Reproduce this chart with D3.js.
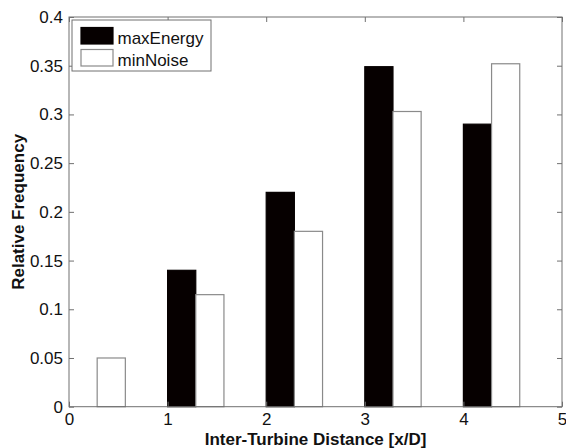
<!DOCTYPE html>
<html>
<head>
<meta charset="utf-8">
<script src="https://cdn.jsdelivr.net/npm/d3@7"></script>
<style>
  html, body { margin: 0; padding: 0; background: #fff; }
  svg { display: block; }
  text { font-family: "Liberation Sans", Arial, sans-serif; fill: #111; }
</style>
</head>
<body>
<svg id="chart" width="566" height="448"></svg>
<script>
// ---- data ----
const categories = [0, 1, 2, 3, 4];
const seriesNames = ["maxEnergy", "minNoise"];
const maxEnergy = [0, 0.14, 0.22, 0.349, 0.29];
const minNoise = [0.05, 0.115, 0.18, 0.303, 0.352];
const xTicks = [0, 1, 2, 3, 4, 5];
const yTicks = [0, 0.05, 0.1, 0.15, 0.2, 0.25, 0.3, 0.35, 0.4];
const yTickLabels = ["0", "0.05", "0.1", "0.15", "0.2", "0.25", "0.3", "0.35", "0.4"];
const xLabel = "Inter-Turbine Distance [x/D]";
const yLabel = "Relative Frequency";

// ---- layout ----
const L = 69, R = 562, T = 17, B = 406.7;
const svg = d3.select("#chart");
const x = d3.scaleLinear().domain([0, 5]).range([L, R]);
const y = d3.scaleLinear().domain([0, 0.4]).range([B, T]);
const barW = 2 / 7; // MATLAB grouped bar width per series (in x units)
const fills = ["#060000", "#ffffff"];
const strokes = ["#060000", "#8a8a8a"];
const series = [maxEnergy, minNoise];

// bars
series.forEach((vals, si) => {
  svg.append("g").selectAll("rect")
    .data(categories.map((c, i) => ({ c, v: vals[i] })))
    .join("rect")
    .attr("x", d => x(d.c + si * barW))
    .attr("width", d => x(d.c + (si + 1) * barW) - x(d.c + si * barW))
    .attr("y", d => y(d.v))
    .attr("height", d => y(0) - y(d.v))
    .attr("fill", fills[si])
    .attr("stroke", d => d.v > 0 ? strokes[si] : "none")
    .attr("stroke-width", 1.2);
});

// axes (ticks inward, MATLAB style)
const axisColor = "#707070";
function styleAxis(g) {
  g.selectAll(".domain").remove();
  g.selectAll(".tick line").attr("stroke", axisColor);
  g.selectAll(".tick text").style("font-size", "17px").attr("fill", "#111");
}
svg.append("g").attr("transform", `translate(0,${B})`)
  .call(d3.axisBottom(x).tickValues(xTicks).tickFormat(d3.format("d")).tickSizeInner(-5).tickSizeOuter(0).tickPadding(6))
  .call(styleAxis);
svg.append("g").attr("transform", `translate(0,${T})`)
  .call(d3.axisTop(x).tickValues(xTicks).tickFormat("").tickSizeInner(-5).tickSizeOuter(0))
  .call(styleAxis);
svg.append("g").attr("transform", `translate(${L},0)`)
  .call(d3.axisLeft(y).tickValues(yTicks).tickFormat((d, i) => yTickLabels[i]).tickSizeInner(-5).tickSizeOuter(0).tickPadding(6))
  .call(styleAxis);
svg.append("g").attr("transform", `translate(${R},0)`)
  .call(d3.axisRight(y).tickValues(yTicks).tickFormat("").tickSizeInner(-5).tickSizeOuter(0))
  .call(styleAxis);

// box
svg.append("rect").attr("x", L).attr("y", T).attr("width", R - L).attr("height", B - T)
  .attr("fill", "none").attr("stroke", axisColor).attr("stroke-width", 1);

// axis labels
svg.append("text").attr("x", (L + R) / 2).attr("y", 445)
  .attr("text-anchor", "middle").style("font-size", "17px").style("font-weight", "bold")
  .text(xLabel);
svg.append("text").attr("transform", `translate(24,${(T + B) / 2}) rotate(-90)`)
  .attr("text-anchor", "middle").style("font-size", "17px").style("font-weight", "bold")
  .text(yLabel);

// legend
const lg = svg.append("g");
lg.append("rect").attr("x", 72).attr("y", 20).attr("width", 139).attr("height", 51)
  .attr("fill", "#fff").attr("stroke", axisColor);
seriesNames.forEach((name, i) => {
  const yy = 27.5 + i * 22;
  lg.append("rect").attr("x", 81).attr("y", yy).attr("width", 32).attr("height", 16.5)
    .attr("fill", fills[i]).attr("stroke", strokes[i]).attr("stroke-width", 1.2);
  lg.append("text").attr("x", 117.5).attr("y", yy + 16.8)
    .style("font-size", "17px").text(name);
});
</script>
</body>
</html>
